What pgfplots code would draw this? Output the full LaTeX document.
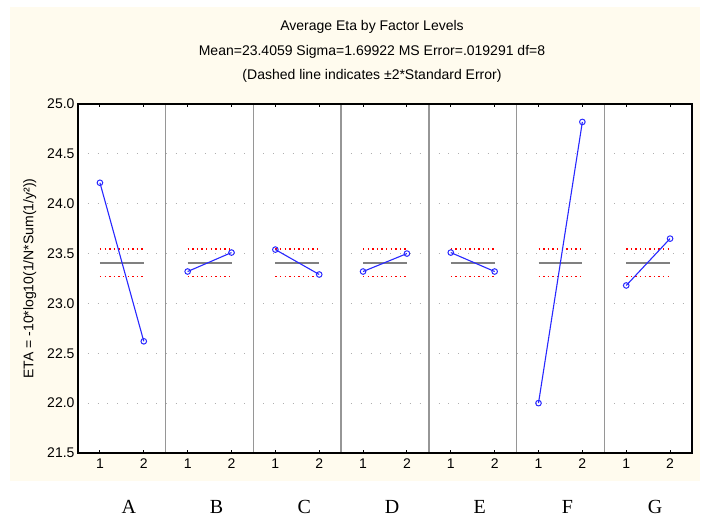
\documentclass[border=0pt]{standalone}
\usepackage{pgfplots}
\pgfplotsset{compat=1.18}
\usepackage{fontspec}
\setmainfont{Liberation Sans}
\newfontfamily\seriffont{Liberation Serif}
\definecolor{cream}{RGB}{255,251,238}
\definecolor{sepgray}{RGB}{150,150,150}
\definecolor{lineblue}{RGB}{40,40,255}
\definecolor{meangray}{RGB}{128,128,128}
\definecolor{gridgray}{RGB}{175,175,175}

\pgfplotsset{
  panel/.style={
    width=87.714pt, height=349pt, scale only axis,
    anchor=south west,
    xmin=0.5, xmax=2.5, ymin=21.5, ymax=25,
    xtick={1,2}, xtick pos=both, xticklabel pos=lower,
    xtick align=inside,
    x tick style={black, line width=0.9pt},
    major tick length=3pt,
    ytick={21.5,22.0,22.5,23.0,23.5,24.0,24.5,25.0},
    y tick style={draw=none},
    ymajorgrids,
    grid style={gridgray, line width=0.8pt, dash pattern=on 0.8pt off 9pt},
    axis line style={draw=none},
    axis background/.style={fill=white},
    tick label style={font=\fontsize{14}{16}\selectfont},
    /pgf/number format/assume math mode=true,
    yticklabel style={/pgf/number format/.cd, fixed, fixed zerofill, precision=1},
    xticklabel style={yshift=-2pt},
  },
  noy/.style={yticklabels={}},
}
\newcommand{\panelcontent}[2]{%
  \addplot[meangray, line width=1.3pt] coordinates {(1,23.4059) (2,23.4059)};
  \addplot[red, line width=1.2pt, dash pattern=on 1.4pt off 3.2pt] coordinates {(1,23.5448) (2,23.5448)};
  \addplot[red, line width=1.2pt, dash pattern=on 1.4pt off 3.2pt] coordinates {(1,23.2670) (2,23.2670)};
  \addplot[lineblue, line width=1.1pt, mark=o, mark size=2.8pt, mark options={solid, line width=1pt}] coordinates {(1,#1) (2,#2)};
}

\begin{document}
\begin{tikzpicture}
\path (0pt,0pt) rectangle (702pt,518pt);
\fill[cream] (10pt,37pt) rectangle (700pt,511pt);

\node[font=\fontsize{14}{16}\selectfont] at (372pt,491pt) {Average Eta by Factor Levels};
\node[font=\fontsize{14}{16}\selectfont] at (372pt,466pt) {Mean=23.4059 Sigma=1.69922 MS Error=.019291 df=8};
\node[font=\fontsize{14}{16}\selectfont] at (372pt,442pt) {(Dashed line indicates ±2*Standard Error)};

\begin{axis}[panel, at={(78pt,65pt)},
  ylabel={ETA = -10*log10(1/N*Sum(1/y²))},
  ylabel shift=4pt,
  ylabel style={font=\fontsize{14}{16}\selectfont}]
\panelcontent{24.21}{22.62}
\end{axis}
\begin{axis}[panel, noy, at={(165.714pt,65pt)}]
\panelcontent{23.32}{23.51}
\end{axis}
\begin{axis}[panel, noy, at={(253.429pt,65pt)}]
\panelcontent{23.54}{23.29}
\end{axis}
\begin{axis}[panel, noy, at={(341.143pt,65pt)}]
\panelcontent{23.32}{23.50}
\end{axis}
\begin{axis}[panel, noy, at={(428.857pt,65pt)}]
\panelcontent{23.51}{23.32}
\end{axis}
\begin{axis}[panel, noy, at={(516.571pt,65pt)}]
\panelcontent{22.00}{24.82}
\end{axis}
\begin{axis}[panel, noy, at={(604.286pt,65pt)}]
\panelcontent{23.18}{23.65}
\end{axis}

\foreach \i in {1,...,6} {
  \draw[sepgray, line width=1.3pt] ({78pt+87.714pt*\i},65pt) -- ({78pt+87.714pt*\i},414pt);
}
\draw[black, line width=1.3pt] (78pt,65pt) rectangle (692pt,414pt);

\foreach \l [count=\i] in {A,B,C,D,E,F,G} {
  \node[font=\seriffont\fontsize{20}{22}\selectfont] at ({78pt+87.714pt*(\i-0.5)+7pt},11pt) {\l};
}
\end{tikzpicture}
\end{document}
